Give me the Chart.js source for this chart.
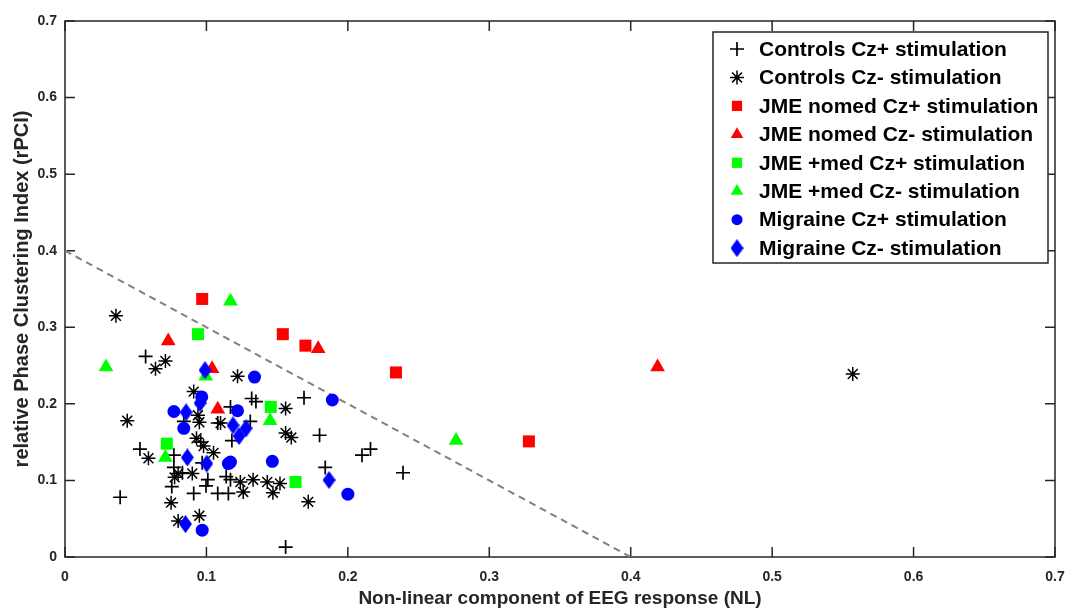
<!DOCTYPE html>
<html>
<head>
<meta charset="utf-8">
<script src="https://cdn.jsdelivr.net/npm/chart.js@4/dist/chart.umd.min.js"></script>
<style>
  html, body { margin: 0; padding: 0; background: #ffffff; }
  #wrap { width: 1069px; height: 610px; }
</style>
</head>
<body>
<div id="wrap"><canvas id="c" width="1069" height="610"></canvas></div>
<script>
// Axis ticks
const xTickLabels = ['0', '0.1', '0.2', '0.3', '0.4', '0.5', '0.6', '0.7'];
const yTickLabels = ['0', '0.1', '0.2', '0.3', '0.4', '0.5', '0.6', '0.7'];

// Series labels
const seriesLabels = [
  'Controls Cz+ stimulation',
  'Controls Cz- stimulation',
  'JME nomed Cz+ stimulation',
  'JME nomed Cz- stimulation',
  'JME +med Cz+ stimulation',
  'JME +med Cz- stimulation',
  'Migraine Cz+ stimulation',
  'Migraine Cz- stimulation'
];

// Controls, Cz+ stimulation: NL values and rPCI values
const controlsPlusNL  = [0.057, 0.053, 0.039, 0.077, 0.077, 0.084, 0.108, 0.101, 0.0755, 0.091, 0.108, 0.1155,
                         0.132, 0.135, 0.169, 0.117, 0.131, 0.118, 0.180, 0.210, 0.216, 0.184, 0.239, 0.156,
                         0.114, 0.117, 0.096, 0.097, 0.0997, 0.083];
const controlsPlusPCI = [0.262, 0.141, 0.078, 0.133, 0.117, 0.177, 0.175, 0.101, 0.092, 0.083, 0.083, 0.083,
                         0.207, 0.203, 0.208, 0.196, 0.177, 0.152, 0.159, 0.133, 0.141, 0.117, 0.110, 0.013,
                         0.105, 0.101, 0.150, 0.123, 0.093, 0.110];

// Controls, Cz- stimulation
const controlsMinusNL  = [0.036, 0.064, 0.071, 0.122, 0.091, 0.156, 0.044, 0.059, 0.094, 0.095, 0.110, 0.093,
                          0.098, 0.105, 0.156, 0.160, 0.080, 0.0775, 0.090, 0.124, 0.133, 0.143, 0.152, 0.126,
                          0.147, 0.172, 0.075, 0.080, 0.095, 0.557];
const controlsMinusPCI = [0.315, 0.246, 0.256, 0.236, 0.216, 0.194, 0.178, 0.129, 0.185, 0.176, 0.175, 0.155,
                          0.145, 0.136, 0.162, 0.156, 0.109, 0.104, 0.109, 0.098, 0.101, 0.098, 0.096, 0.085,
                          0.084, 0.072, 0.071, 0.047, 0.054, 0.239];

// JME without medication
const jmeNomedPlusNL   = [0.097, 0.154, 0.170, 0.234, 0.328];
const jmeNomedPlusPCI  = [0.337, 0.291, 0.276, 0.241, 0.151];
const jmeNomedMinusNL  = [0.073, 0.104, 0.179, 0.108, 0.419];
const jmeNomedMinusPCI = [0.282, 0.246, 0.272, 0.193, 0.248];

// JME with medication
const jmeMedPlusNL   = [0.094, 0.072, 0.1455, 0.163];
const jmeMedPlusPCI  = [0.291, 0.148, 0.196, 0.098];
const jmeMedMinusNL  = [0.029, 0.117, 0.071, 0.145, 0.2765, 0.0995];
const jmeMedMinusPCI = [0.248, 0.334, 0.130, 0.178, 0.152, 0.236];

// Migraine
const migrainePlusNL   = [0.134, 0.189, 0.077, 0.122, 0.084, 0.1155, 0.117, 0.1466, 0.200, 0.097, 0.0967];
const migrainePlusPCI  = [0.235, 0.205, 0.190, 0.191, 0.168, 0.122, 0.124, 0.125, 0.082, 0.035, 0.209];
const migraineMinusNL  = [0.099, 0.0856, 0.0955, 0.1188, 0.1231, 0.128, 0.0865, 0.1002, 0.1867, 0.0852];
const migraineMinusPCI = [0.244, 0.189, 0.201, 0.172, 0.158, 0.168, 0.130, 0.122, 0.1005, 0.043];

// Separation line endpoints (NL, rPCI)
const boundaryNL  = [0, 0.4];
const boundaryPCI = [0.4, 0];

function pairs(xs, ys) {
  return xs.map((x, i) => ({ x: x, y: ys[i] }));
}

// Elongated diamond marker
function makeDiamond(color, w, h) {
  const cv = document.createElement('canvas');
  cv.width = w; cv.height = h;
  const g = cv.getContext('2d');
  g.fillStyle = color;
  g.beginPath();
  g.moveTo(w / 2, 0);
  g.lineTo(w, h / 2);
  g.lineTo(w / 2, h);
  g.lineTo(0, h / 2);
  g.closePath();
  g.fill();
  return cv;
}
const diamondMarker = makeDiamond('#0000ff', 13, 18);

const RED = '#ff0000', GREEN = '#00ff00', BLUE = '#0000ff', BLACK = '#000000';

function markerSet(label, data, style, color, radius, lineW, order) {
  return {
    type: 'scatter',
    label: label,
    data: data,
    order: order,
    pointStyle: style,
    pointRadius: radius,
    pointBackgroundColor: color,
    pointBorderColor: color,
    pointBorderWidth: lineW,
    showLine: false
  };
}

const datasets = [
  markerSet(seriesLabels[0], pairs(controlsPlusNL, controlsPlusPCI), 'cross', BLACK, 7, 1.7, 8),
  markerSet(seriesLabels[1], pairs(controlsMinusNL, controlsMinusPCI), 'star', BLACK, 7, 1.5, 7),
  markerSet(seriesLabels[2], pairs(jmeNomedPlusNL, jmeNomedPlusPCI), 'rect', RED, 8.5, 0, 6),
  markerSet(seriesLabels[3], pairs(jmeNomedMinusNL, jmeNomedMinusPCI), 'triangle', RED, 8.5, 0, 5),
  markerSet(seriesLabels[4], pairs(jmeMedPlusNL, jmeMedPlusPCI), 'rect', GREEN, 8.5, 0, 4),
  markerSet(seriesLabels[5], pairs(jmeMedMinusNL, jmeMedMinusPCI), 'triangle', GREEN, 8.5, 0, 3),
  markerSet(seriesLabels[6], pairs(migrainePlusNL, migrainePlusPCI), 'circle', BLUE, 6.5, 0, 2),
  markerSet(seriesLabels[7], pairs(migraineMinusNL, migraineMinusPCI), diamondMarker, BLUE, 9, 0, 1),
  {
    type: 'line',
    label: 'boundary',
    data: pairs(boundaryNL, boundaryPCI),
    order: 20,
    borderColor: '#808080',
    borderWidth: 2,
    borderDash: [7, 5],
    pointRadius: 0,
    fill: false
  }
];

const AXIS_COLOR = '#262626';
const TICK_LEN = 10;

// Full box around the plot with inward ticks on all four sides
const boxPlugin = {
  id: 'axisBox',
  beforeDatasetsDraw(chart) {
    const { ctx, chartArea: a, scales } = chart;
    ctx.save();
    ctx.strokeStyle = AXIS_COLOR;
    ctx.lineWidth = 1.5;
    ctx.beginPath();
    scales.x.ticks.forEach(t => {
      const px = scales.x.getPixelForValue(t.value);
      ctx.moveTo(px, a.bottom); ctx.lineTo(px, a.bottom - TICK_LEN);
      ctx.moveTo(px, a.top); ctx.lineTo(px, a.top + TICK_LEN);
    });
    scales.y.ticks.forEach(t => {
      const py = scales.y.getPixelForValue(t.value);
      ctx.moveTo(a.left, py); ctx.lineTo(a.left + TICK_LEN, py);
      ctx.moveTo(a.right, py); ctx.lineTo(a.right - TICK_LEN, py);
    });
    ctx.stroke();
    ctx.strokeRect(a.left, a.top, a.right - a.left, a.bottom - a.top);
    ctx.restore();
  }
};

// Boxed legend in the upper right of the plot
const legendPlugin = {
  id: 'boxLegend',
  afterDatasetsDraw(chart) {
    const { ctx, chartArea: a } = chart;
    const left = a.right - 342, top = a.top + 11, w = 335, h = 231;
    const rowH = 28.45, firstRow = top + 17;
    const markerX = left + 24, textX = left + 46;
    ctx.save();
    ctx.fillStyle = '#ffffff';
    ctx.fillRect(left, top, w, h);
    ctx.strokeStyle = AXIS_COLOR;
    ctx.lineWidth = 1.5;
    ctx.strokeRect(left, top, w, h);
    ctx.font = 'bold 21px "Liberation Sans", Arial, sans-serif';
    ctx.textBaseline = 'middle';
    ctx.textAlign = 'left';
    chart.data.datasets.forEach((ds, i) => {
      if (ds.type !== 'scatter') return;
      const y = firstRow + i * rowH;
      ctx.fillStyle = ds.pointBackgroundColor;
      ctx.strokeStyle = ds.pointBorderColor;
      ctx.lineWidth = ds.pointBorderWidth;
      Chart.helpers.drawPoint(ctx, {
        pointStyle: ds.pointStyle,
        radius: ds.pointStyle === 'cross' || ds.pointStyle === 'star' ? 7 : ds.pointRadius * 0.85,
        rotation: 0,
        borderWidth: ds.pointBorderWidth
      }, markerX, y);
      ctx.fillStyle = '#000000';
      ctx.fillText(ds.label, textX, y + 1);
    });
    ctx.restore();
  }
};

new Chart(document.getElementById('c'), {
  data: { datasets: datasets },
  options: {
    responsive: false,
    animation: false,
    events: [],
    layout: { padding: { top: 21, right: 14, left: 0, bottom: 0 } },
    plugins: { legend: { display: false }, tooltip: { enabled: false } },
    scales: {
      x: {
        type: 'linear',
        min: 0, max: 0.7,
        afterFit(s) { s.height = 53; s.paddingLeft = 0; s.paddingRight = 0; },
        border: { display: false },
        grid: { display: false, drawTicks: false },
        ticks: {
          stepSize: 0.1,
          padding: 12,
          color: AXIS_COLOR,
          font: { family: '"Liberation Sans", Arial, sans-serif', size: 14, weight: 'bold' },
          callback: (v, i) => xTickLabels[i]
        },
        title: {
          display: true,
          text: 'Non-linear component of EEG response (NL)',
          color: AXIS_COLOR,
          padding: { top: 0, bottom: 0 },
          font: { family: '"Liberation Sans", Arial, sans-serif', size: 19, weight: 'bold' }
        }
      },
      y: {
        type: 'linear',
        min: 0, max: 0.7,
        afterFit(s) { s.width = 65; s.paddingTop = 0; s.paddingBottom = 0; },
        border: { display: false },
        grid: { display: false, drawTicks: false },
        ticks: {
          stepSize: 0.1,
          padding: 8,
          color: AXIS_COLOR,
          font: { family: '"Liberation Sans", Arial, sans-serif', size: 14, weight: 'bold' },
          callback: (v, i) => yTickLabels[i]
        },
        title: {
          display: true,
          text: 'relative Phase Clustering Index (rPCI)',
          color: AXIS_COLOR,
          padding: { top: 10, bottom: 0 },
          font: { family: '"Liberation Sans", Arial, sans-serif', size: 20, weight: 'bold' }
        }
      }
    }
  },
  plugins: [boxPlugin, legendPlugin]
});
</script>
</body>
</html>
